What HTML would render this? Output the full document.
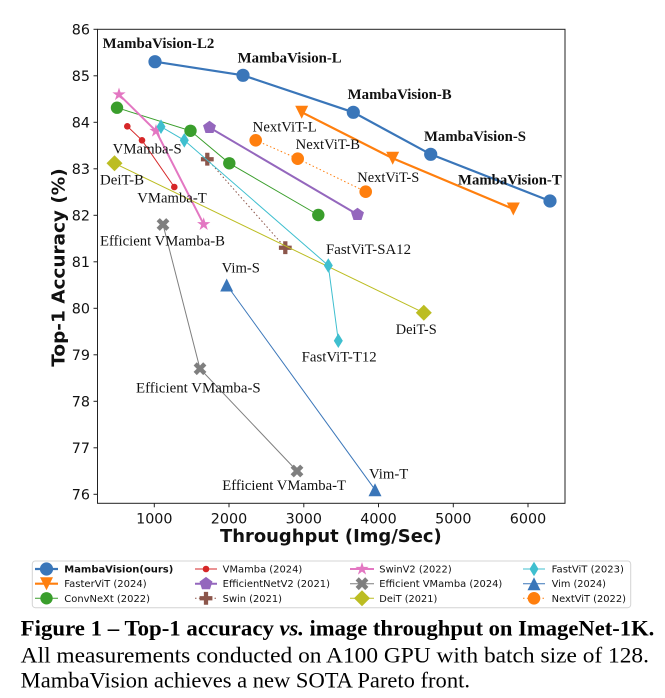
<!DOCTYPE html>
<html><head><meta charset="utf-8"><style>
html,body{margin:0;padding:0;background:#fff;}
svg{display:block;}
.tk{font-family:"DejaVu Sans","Liberation Sans",sans-serif;font-size:14.3px;fill:#111;}
.an{font-family:"Liberation Serif","DejaVu Serif",serif;font-size:14.5px;fill:#111;}
.anb{font-family:"Liberation Serif","DejaVu Serif",serif;font-size:14.5px;font-weight:bold;fill:#111;}
.lg{font-family:"DejaVu Sans","Liberation Sans",sans-serif;font-size:9.8px;fill:#111;}
.cap{font-family:"Liberation Serif","DejaVu Serif",serif;font-size:22.5px;fill:#000;}
</style></head><body>
<svg width="665" height="698" viewBox="0 0 665 698" xmlns="http://www.w3.org/2000/svg">
<defs>
<path id="tdn" d="M-6.5,-6.5 L6.5,-6.5 L0,6.5 Z"/>
<path id="tup" d="M0,-6.5 L6.5,6.5 L-6.5,6.5 Z"/>
<path id="pent" d="M0,-6.8 L6.467,-2.101 L3.997,5.501 L-3.997,5.501 L-6.467,-2.101 Z"/>
<path id="star" d="M0,-7 L1.572,-2.163 L6.658,-2.163 L2.543,0.826 L4.115,5.663 L0,2.674 L-4.115,5.663 L-2.543,0.826 L-6.658,-2.163 L-1.572,-2.163 Z"/>
<path id="plus" d="M-2.13,-6.4 H2.13 V-2.13 H6.4 V2.13 H2.13 V6.4 H-2.13 V2.13 H-6.4 V-2.13 H-2.13 Z"/>
<path id="xf" d="M-3.2,-6.4 L0,-3.2 L3.2,-6.4 L6.4,-3.2 L3.2,0 L6.4,3.2 L3.2,6.4 L0,3.2 L-3.2,6.4 L-6.4,3.2 L-3.2,0 L-6.4,-3.2 Z"/>
<path id="dia" d="M0,-8 L8,0 L0,8 L-8,0 Z"/>
<path id="tdia" d="M0,-7.3 L4.5,0 L0,7.3 L-4.5,0 Z"/>
</defs>
<rect width="665" height="698" fill="#fff"/>

<!-- ticks -->
<g stroke="#222" stroke-width="1">
<line x1="93.5" y1="29.3" x2="97.5" y2="29.3"/>
<line x1="93.5" y1="75.8" x2="97.5" y2="75.8"/>
<line x1="93.5" y1="122.3" x2="97.5" y2="122.3"/>
<line x1="93.5" y1="168.8" x2="97.5" y2="168.8"/>
<line x1="93.5" y1="215.3" x2="97.5" y2="215.3"/>
<line x1="93.5" y1="261.8" x2="97.5" y2="261.8"/>
<line x1="93.5" y1="308.3" x2="97.5" y2="308.3"/>
<line x1="93.5" y1="354.8" x2="97.5" y2="354.8"/>
<line x1="93.5" y1="401.3" x2="97.5" y2="401.3"/>
<line x1="93.5" y1="447.8" x2="97.5" y2="447.8"/>
<line x1="93.5" y1="494.3" x2="97.5" y2="494.3"/>
<line x1="154.3" y1="503.3" x2="154.3" y2="507.3"/>
<line x1="229" y1="503.3" x2="229" y2="507.3"/>
<line x1="303.8" y1="503.3" x2="303.8" y2="507.3"/>
<line x1="378.5" y1="503.3" x2="378.5" y2="507.3"/>
<line x1="453.3" y1="503.3" x2="453.3" y2="507.3"/>
<line x1="528" y1="503.3" x2="528" y2="507.3"/>
</g>
<g class="tk" text-anchor="end">
<text x="90" y="34.5">86</text>
<text x="90" y="81">85</text>
<text x="90" y="127.5">84</text>
<text x="90" y="174">83</text>
<text x="90" y="220.5">82</text>
<text x="90" y="267">81</text>
<text x="90" y="313.5">80</text>
<text x="90" y="360">79</text>
<text x="90" y="406.5">78</text>
<text x="90" y="453">77</text>
<text x="90" y="499.5">76</text>
</g>
<g class="tk" text-anchor="middle">
<text x="154.3" y="523.3">1000</text>
<text x="229" y="523.3">2000</text>
<text x="303.8" y="523.3">3000</text>
<text x="378.5" y="523.3">4000</text>
<text x="453.3" y="523.3">5000</text>
<text x="528" y="523.3">6000</text>
</g>
<text x="220" y="542" textLength="221.7" lengthAdjust="spacingAndGlyphs" style="font-family:'DejaVu Sans','Liberation Sans',sans-serif;font-size:18px;font-weight:bold;fill:#111;">Throughput (Img/Sec)</text>
<text transform="translate(64.5,366.7) rotate(-90)" x="0" y="0" textLength="198.4" lengthAdjust="spacingAndGlyphs" style="font-family:'DejaVu Sans','Liberation Sans',sans-serif;font-size:18px;font-weight:bold;fill:#111;">Top-1 Accuracy (%)</text>

<!-- series -->
<!-- MambaVision -->
<polyline points="155,61.7 243,75.3 353.3,112.3 430.7,154.3 550,201" fill="none" stroke="#3a76b9" stroke-width="2.2"/>
<g fill="#3a76b9"><circle cx="155" cy="61.7" r="6.6"/><circle cx="243" cy="75.3" r="6.6"/><circle cx="353.3" cy="112.3" r="6.6"/><circle cx="430.7" cy="154.3" r="6.6"/><circle cx="550" cy="201" r="6.6"/></g>
<!-- FasterViT -->
<polyline points="301.7,112.2 392.7,158.3 513.3,209" fill="none" stroke="#ff7f0e" stroke-width="2.2"/>
<g fill="#ff7f0e"><use href="#tdn" x="301.7" y="112.2"/><use href="#tdn" x="392.7" y="158.3"/><use href="#tdn" x="513.3" y="209"/></g>
<!-- ConvNeXt -->
<polyline points="117,107.7 190.5,130.8 229.3,163.3 318.3,215" fill="none" stroke="#3a9e2c" stroke-width="1"/>
<g fill="#3a9e2c"><circle cx="117" cy="107.7" r="6.2"/><circle cx="190.5" cy="130.8" r="6.2"/><circle cx="229.3" cy="163.3" r="6.2"/><circle cx="318.3" cy="215" r="6.2"/></g>
<!-- VMamba -->
<polyline points="127.3,126.3 142,140.3 174.3,187" fill="none" stroke="#d62728" stroke-width="1"/>
<g fill="#d62728"><circle cx="127.3" cy="126.3" r="3.3"/><circle cx="142" cy="140.3" r="3.3"/><circle cx="174.3" cy="187" r="3.3"/></g>
<!-- EfficientNetV2 -->
<polyline points="209.5,127.5 357.5,214.5" fill="none" stroke="#9467bd" stroke-width="2"/>
<g fill="#9467bd"><use href="#pent" x="209.5" y="127.5"/><use href="#pent" x="357.5" y="214.5"/></g>
<!-- Swin -->
<polyline points="207.3,159.2 285.3,247.7" fill="none" stroke="#8c564b" stroke-width="1" stroke-dasharray="1.5,2.4"/>
<g fill="#8c564b"><use href="#plus" x="207.3" y="159.2"/><use href="#plus" x="285.3" y="247.7"/></g>
<!-- SwinV2 -->
<polyline points="119,94.5 156,131 203.7,224.3" fill="none" stroke="#e377c2" stroke-width="2"/>
<g fill="#e377c2"><use href="#star" x="119" y="94.5"/><use href="#star" x="156" y="131"/><use href="#star" x="203.7" y="224.3"/></g>
<!-- Efficient VMamba -->
<polyline points="163,224.5 200,368.7 297,471" fill="none" stroke="#7f7f7f" stroke-width="1"/>
<g fill="#7f7f7f"><use href="#xf" x="163" y="224.5"/><use href="#xf" x="200" y="368.7"/><use href="#xf" x="297" y="471"/></g>
<!-- DeiT -->
<polyline points="114.5,163.3 423.8,312.8" fill="none" stroke="#bcbd22" stroke-width="1"/>
<g fill="#bcbd22"><use href="#dia" x="114.5" y="163.3"/><use href="#dia" x="423.8" y="312.8"/></g>
<!-- FastViT -->
<polyline points="161,126.7 184.3,140.3 328.3,265.5 338.3,340.7" fill="none" stroke="#3fbfcf" stroke-width="1"/>
<g fill="#3fbfcf"><use href="#tdia" x="161" y="126.7"/><use href="#tdia" x="184.3" y="140.3"/><use href="#tdia" x="328.3" y="265.5"/><use href="#tdia" x="338.3" y="340.7"/></g>
<!-- Vim -->
<polyline points="226.7,285 375,489.7" fill="none" stroke="#3a76b9" stroke-width="1"/>
<g fill="#3a76b9"><use href="#tup" x="226.7" y="285"/><use href="#tup" x="375" y="489.7"/></g>
<!-- NextViT -->
<polyline points="255.7,140.3 297.7,158.7 365.7,191.7" fill="none" stroke="#ff7f0e" stroke-width="1" stroke-dasharray="1.5,2.4"/>
<g fill="#ff7f0e"><circle cx="255.7" cy="140.3" r="6.3"/><circle cx="297.7" cy="158.7" r="6.3"/><circle cx="365.7" cy="191.7" r="6.3"/></g>

<!-- frame -->
<rect x="97.5" y="29.3" width="467.5" height="474" fill="none" stroke="#222" stroke-width="1"/>

<!-- annotations -->
<text class="anb" x="102.7" y="47.8" textLength="111.6" lengthAdjust="spacingAndGlyphs">MambaVision-L2</text>
<text class="anb" x="237.7" y="62.7" textLength="104" lengthAdjust="spacingAndGlyphs">MambaVision-L</text>
<text class="anb" x="347.7" y="99" textLength="104" lengthAdjust="spacingAndGlyphs">MambaVision-B</text>
<text class="anb" x="424" y="141" textLength="102" lengthAdjust="spacingAndGlyphs">MambaVision-S</text>
<text class="anb" x="458" y="184.3" textLength="103.7" lengthAdjust="spacingAndGlyphs">MambaVision-T</text>
<text class="an" x="252.7" y="131.6" textLength="64" lengthAdjust="spacingAndGlyphs">NextViT-L</text>
<text class="an" x="295.7" y="149" textLength="64.3" lengthAdjust="spacingAndGlyphs">NextViT-B</text>
<text class="an" x="357.3" y="182" textLength="62" lengthAdjust="spacingAndGlyphs">NextViT-S</text>
<text class="an" x="112.7" y="153.3" textLength="69" lengthAdjust="spacingAndGlyphs">VMamba-S</text>
<text class="an" x="100" y="184.3" textLength="44" lengthAdjust="spacingAndGlyphs">DeiT-B</text>
<text class="an" x="137.3" y="202.7" textLength="69.4" lengthAdjust="spacingAndGlyphs">VMamba-T</text>
<text class="an" x="100" y="245.7" textLength="125" lengthAdjust="spacingAndGlyphs">Efficient VMamba-B</text>
<text class="an" x="326" y="254" textLength="85" lengthAdjust="spacingAndGlyphs">FastViT-SA12</text>
<text class="an" x="221.7" y="272.3" textLength="38.3" lengthAdjust="spacingAndGlyphs">Vim-S</text>
<text class="an" x="395.7" y="334" textLength="41" lengthAdjust="spacingAndGlyphs">DeiT-S</text>
<text class="an" x="301.7" y="361.7" textLength="75" lengthAdjust="spacingAndGlyphs">FastViT-T12</text>
<text class="an" x="136" y="392.3" textLength="124.7" lengthAdjust="spacingAndGlyphs">Efficient VMamba-S</text>
<text class="an" x="369" y="478.3" textLength="39.3" lengthAdjust="spacingAndGlyphs">Vim-T</text>
<text class="an" x="222.3" y="490" textLength="123.7" lengthAdjust="spacingAndGlyphs">Efficient VMamba-T</text>

<!-- legend -->
<rect x="32.3" y="561" width="598.4" height="46.7" rx="3" ry="3" fill="#fff" stroke="#d4d4d4" stroke-width="1"/>
<!-- col1 -->
<line x1="35" y1="569" x2="58" y2="569" stroke="#3a76b9" stroke-width="2.2"/><circle cx="46.5" cy="569" r="6.6" fill="#3a76b9"/>
<line x1="35" y1="583.7" x2="58" y2="583.7" stroke="#ff7f0e" stroke-width="2.2"/><use href="#tdn" x="46.5" y="583.7" fill="#ff7f0e"/>
<line x1="35" y1="598.3" x2="58" y2="598.3" stroke="#3a9e2c" stroke-width="1"/><circle cx="46.5" cy="598.3" r="6.2" fill="#3a9e2c"/>
<text class="lg" x="64.3" y="572.5" font-weight="bold" textLength="109" lengthAdjust="spacingAndGlyphs">MambaVision(ours)</text>
<text class="lg" x="64.3" y="587.2" textLength="82.4" lengthAdjust="spacingAndGlyphs">FasterViT (2024)</text>
<text class="lg" x="64.3" y="601.8" textLength="85.7" lengthAdjust="spacingAndGlyphs">ConvNeXt (2022)</text>
<!-- col2 -->
<line x1="195" y1="569" x2="217" y2="569" stroke="#d62728" stroke-width="1"/><circle cx="206" cy="569" r="3.3" fill="#d62728"/>
<line x1="195" y1="583.7" x2="217" y2="583.7" stroke="#9467bd" stroke-width="2"/><use href="#pent" x="206" y="583.7" fill="#9467bd"/>
<line x1="195" y1="598.3" x2="217" y2="598.3" stroke="#8c564b" stroke-width="1" stroke-dasharray="1.5,2.4"/><use href="#plus" x="206" y="598.3" fill="#8c564b"/>
<text class="lg" x="222.7" y="572.5" textLength="79.6" lengthAdjust="spacingAndGlyphs">VMamba (2024)</text>
<text class="lg" x="222.7" y="587.2" textLength="107.3" lengthAdjust="spacingAndGlyphs">EfficientNetV2 (2021)</text>
<text class="lg" x="222.7" y="601.8" textLength="59.3" lengthAdjust="spacingAndGlyphs">Swin (2021)</text>
<!-- col3 -->
<line x1="350" y1="569" x2="374" y2="569" stroke="#e377c2" stroke-width="2"/><use href="#star" x="362" y="569" fill="#e377c2"/>
<line x1="350" y1="583.7" x2="374" y2="583.7" stroke="#7f7f7f" stroke-width="1"/><use href="#xf" x="362" y="583.7" fill="#7f7f7f"/>
<line x1="350" y1="598.3" x2="374" y2="598.3" stroke="#bcbd22" stroke-width="1"/><use href="#dia" x="362" y="598.3" fill="#bcbd22"/>
<text class="lg" x="379.3" y="572.5" textLength="72.4" lengthAdjust="spacingAndGlyphs">SwinV2 (2022)</text>
<text class="lg" x="379.3" y="587.2" textLength="123" lengthAdjust="spacingAndGlyphs">Efficient VMamba (2024)</text>
<text class="lg" x="379.3" y="601.8" textLength="58" lengthAdjust="spacingAndGlyphs">DeiT (2021)</text>
<!-- col4 -->
<line x1="523" y1="569" x2="545" y2="569" stroke="#3fbfcf" stroke-width="1"/><use href="#tdia" x="534" y="569" fill="#3fbfcf"/>
<line x1="523" y1="583.7" x2="545" y2="583.7" stroke="#3a76b9" stroke-width="1"/><use href="#tup" x="534" y="583.7" fill="#3a76b9"/>
<line x1="523" y1="598.3" x2="545" y2="598.3" stroke="#ff7f0e" stroke-width="1" stroke-dasharray="1.5,2.4"/><circle cx="534" cy="598.3" r="6.3" fill="#ff7f0e"/>
<text class="lg" x="551.7" y="572.5" textLength="72.3" lengthAdjust="spacingAndGlyphs">FastViT (2023)</text>
<text class="lg" x="551.7" y="587.2" textLength="54.3" lengthAdjust="spacingAndGlyphs">Vim (2024)</text>
<text class="lg" x="551.7" y="601.8" textLength="74.3" lengthAdjust="spacingAndGlyphs">NextViT (2022)</text>

<!-- caption -->
<text class="cap" x="20.7" y="635.7" font-weight="bold" textLength="253.2" lengthAdjust="spacingAndGlyphs">Figure 1 – Top-1 accuracy</text>
<text class="cap" x="279.5" y="635.7" font-weight="bold" font-style="italic" textLength="24.4" lengthAdjust="spacingAndGlyphs">vs.</text>
<text class="cap" x="309.5" y="635.7" font-weight="bold" textLength="344.8" lengthAdjust="spacingAndGlyphs">image throughput on ImageNet-1K.</text>
<text class="cap" x="20.7" y="662.3" textLength="628.3" lengthAdjust="spacingAndGlyphs">All measurements conducted on A100 GPU with batch size of 128.</text>
<text class="cap" x="20.7" y="687.3" textLength="449.3" lengthAdjust="spacingAndGlyphs">MambaVision achieves a new SOTA Pareto front.</text>
</svg>
</body></html>
